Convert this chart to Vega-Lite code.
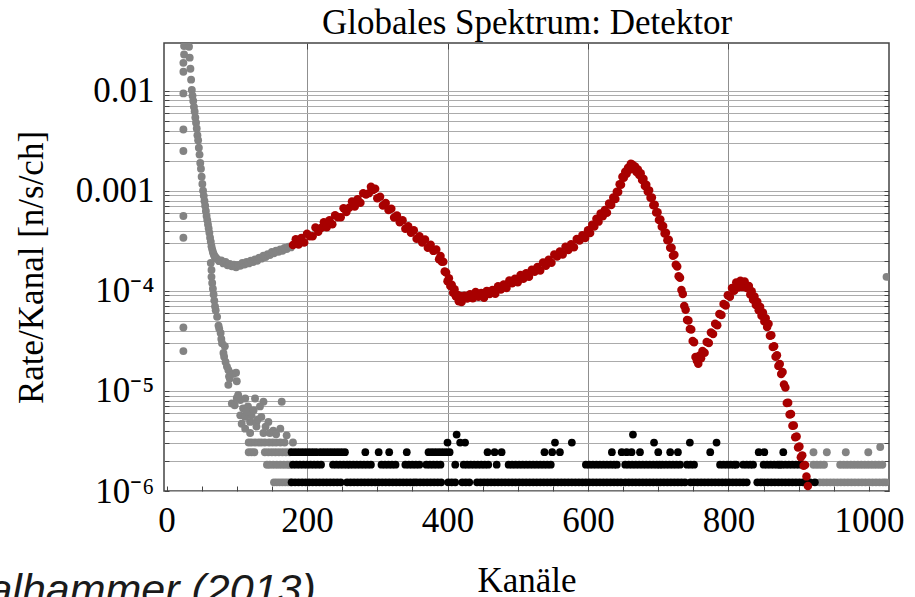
{
"$schema": "https://vega.github.io/schema/vega-lite/v6.json",
"width": 725, "height": 448,
"autosize": {"type": "none"},
"padding": {"left": 164, "top": 43, "right": 26, "bottom": 106},
"background": "white",
"config": {"view": {"stroke": "#444444", "strokeWidth": 1.5}},
"title": {"text": "Thalhammer (2013)", "orient": "bottom", "anchor": "start", "frame": "bounds", "font": "Liberation Sans", "fontStyle": "italic", "fontWeight": "normal", "fontSize": 43, "color": "#1a1a1a", "offset": -28, "dx": -76},
"datasets": {
"gray": [
{"x":25,"y":0.028},{"x":25,"y":0.023},{"x":24,"y":0.019},{"x":24,"y":0.0155},{"x":24,"y":0.0094},{"x":24,"y":0.0041},{"x":24,"y":0.0025},{"x":24,"y":0.00056},{"x":24,"y":0.00034},{"x":24,"y":4.3e-5},{"x":24,"y":2.5e-5},
{"x":28,"y":0.0708},{"x":29,"y":0.0562},{"x":30,"y":0.0447},{"x":31,"y":0.0355},{"x":32,"y":0.0275},{"x":33,"y":0.0214},{"x":34,"y":0.0166},{"x":35,"y":0.0129},{"x":36,"y":0.0102},{"x":37,"y":0.0089},{"x":38,"y":0.0079},{"x":39,"y":0.0069},{"x":40,"y":0.0062},{"x":41,"y":0.0054},{"x":42,"y":0.0048},{"x":43,"y":0.0042},{"x":44,"y":0.0036},{"x":45,"y":0.0032},{"x":46,"y":0.0027},{"x":47,"y":0.0023},{"x":48,"y":0.0019},{"x":49,"y":0.00166},{"x":50,"y":0.00138},{"x":51,"y":0.00117},{"x":52,"y":0.001},{"x":53,"y":0.00089},{"x":54,"y":0.00079},{"x":55,"y":0.00071},{"x":56,"y":0.00063},{"x":57,"y":0.00056},{"x":58,"y":0.00051},{"x":59,"y":0.00046},{"x":60,"y":0.00042},{"x":61,"y":0.00038},{"x":62,"y":0.00034},{"x":63,"y":0.00031},{"x":64,"y":0.00028},{"x":65,"y":0.00026},{"x":66,"y":0.000245},{"x":67,"y":0.000234},{"x":68,"y":0.000224},{"x":69,"y":0.000219},{"x":70,"y":0.000214},
{"x":72,"y":2.08e-4},{"x":75,"y":1.98e-4},{"x":78,"y":2.02e-4},{"x":81,"y":1.88e-4},{"x":84,"y":1.95e-4},{"x":87,"y":1.8e-4},{"x":90,"y":1.86e-4},{"x":93,"y":1.76e-4},{"x":96,"y":1.83e-4},{"x":99,"y":1.72e-4},{"x":102,"y":1.82e-4},{"x":105,"y":1.78e-4},{"x":108,"y":1.9e-4},{"x":111,"y":1.83e-4},{"x":114,"y":1.95e-4},{"x":117,"y":1.88e-4},{"x":120,"y":2.0e-4},{"x":123,"y":1.94e-4},{"x":126,"y":2.06e-4},{"x":129,"y":2.0e-4},{"x":132,"y":2.15e-4},{"x":135,"y":2.1e-4},{"x":138,"y":2.25e-4},{"x":141,"y":2.18e-4},{"x":144,"y":2.33e-4},{"x":147,"y":2.28e-4},{"x":150,"y":2.45e-4},{"x":153,"y":2.38e-4},{"x":156,"y":2.52e-4},{"x":159,"y":2.45e-4},{"x":162,"y":2.6e-4},{"x":165,"y":2.52e-4},{"x":168,"y":2.68e-4},{"x":171,"y":2.62e-4},{"x":174,"y":2.76e-4},{"x":177,"y":2.72e-4},
{"x":63,"y":1.9e-4},{"x":64,"y":1.62e-4},{"x":64,"y":1.38e-4},{"x":65,"y":1.2e-4},{"x":66,"y":1.05e-4},{"x":67,"y":9.2e-5},{"x":68,"y":8.0e-5},{"x":69,"y":7.0e-5},{"x":70,"y":6.4e-5},{"x":72,"y":5.5e-5},{"x":74,"y":4.5e-5},{"x":75,"y":4.2e-5},{"x":77,"y":3.8e-5},{"x":78,"y":3.3e-5},{"x":79,"y":3.0e-5},{"x":81,"y":2.4e-5},{"x":82,"y":2.2e-5},{"x":83,"y":2.8e-5},{"x":84,"y":1.95e-5},{"x":86,"y":1.75e-5},{"x":88,"y":1.62e-5},{"x":89,"y":1.4e-5},{"x":88,"y":1.15e-5},{"x":90,"y":1.33e-5},{"x":93,"y":1.5e-5},{"x":95,"y":1.48e-5},{"x":99,"y":1.52e-5},{"x":100,"y":1.25e-5},
{"x":102,"y":9.1e-6},{"x":93,"y":7.5e-6},{"x":97,"y":7.2e-6},{"x":105,"y":8.1e-6},{"x":112,"y":8.4e-6},{"x":126,"y":8.4e-6},{"x":138,"y":7.8e-6},{"x":164,"y":7.8e-6},{"x":109,"y":6.7e-6},{"x":116,"y":7.0e-6},{"x":133,"y":7.0e-6},{"x":105,"y":5.7e-6},{"x":112,"y":5.5e-6},{"x":121,"y":5.7e-6},{"x":135,"y":5.5e-6},{"x":107,"y":4.7e-6},{"x":119,"y":4.9e-6},{"x":128,"y":4.9e-6},{"x":145,"y":4.9e-6},{"x":112,"y":4.2e-6},{"x":119,"y":3.8e-6},{"x":128,"y":4.4e-6},{"x":138,"y":3.8e-6},{"x":147,"y":3.8e-6},{"x":162,"y":4.2e-6},{"x":171,"y":3.6e-6},{"x":100,"y":8.5e-6},{"x":114,"y":6.2e-6},{"x":124,"y":6.4e-6},{"x":130,"y":5.2e-6},{"x":141,"y":4.4e-6},{"x":152,"y":4.0e-6},{"x":156,"y":3.7e-6},
{"x":117,"y":3.05e-6},{"x":121,"y":3.05e-6},{"x":126,"y":3.05e-6},{"x":131,"y":3.05e-6},{"x":135,"y":3.05e-6},{"x":140,"y":3.05e-6},{"x":146,"y":3.05e-6},{"x":151,"y":3.05e-6},{"x":156,"y":3.05e-6},{"x":162,"y":3.05e-6},{"x":168,"y":3.05e-6},{"x":180,"y":3.05e-6},
{"x":117,"y":2.44e-6},{"x":121,"y":2.44e-6},{"x":125,"y":2.44e-6},{"x":140,"y":2.44e-6},{"x":145,"y":2.44e-6},{"x":150,"y":2.44e-6},{"x":155,"y":2.44e-6},{"x":160,"y":2.44e-6},{"x":165,"y":2.44e-6},{"x":170,"y":2.44e-6},{"x":175,"y":2.44e-6},
{"x":143,"y":1.83e-6},{"x":147,"y":1.83e-6},{"x":152,"y":1.83e-6},{"x":157,"y":1.83e-6},{"x":162,"y":1.83e-6},{"x":167,"y":1.83e-6},{"x":172,"y":1.83e-6},{"x":176,"y":1.83e-6},
{"x":153,"y":1.22e-6},{"x":157,"y":1.22e-6},{"x":161,"y":1.22e-6},{"x":165,"y":1.22e-6},{"x":169,"y":1.22e-6},{"x":173,"y":1.22e-6},{"x":177,"y":1.22e-6},
{"x":930,"y":1.22e-6},{"x":935,"y":1.22e-6},{"x":940,"y":1.22e-6},{"x":945,"y":1.22e-6},{"x":950,"y":1.22e-6},{"x":955,"y":1.22e-6},{"x":960,"y":1.22e-6},{"x":965,"y":1.22e-6},{"x":970,"y":1.22e-6},{"x":975,"y":1.22e-6},{"x":980,"y":1.22e-6},{"x":985,"y":1.22e-6},{"x":990,"y":1.22e-6},{"x":995,"y":1.22e-6},{"x":1000,"y":1.22e-6},{"x":1005,"y":1.22e-6},{"x":1010,"y":1.22e-6},{"x":1015,"y":1.22e-6},{"x":1020,"y":1.22e-6},{"x":1024,"y":1.22e-6},
{"x":921,"y":1.83e-6},{"x":926,"y":1.83e-6},{"x":931,"y":1.83e-6},{"x":936,"y":1.83e-6},{"x":959,"y":1.83e-6},{"x":964,"y":1.83e-6},{"x":969,"y":1.83e-6},{"x":974,"y":1.83e-6},{"x":979,"y":1.83e-6},{"x":984,"y":1.83e-6},{"x":989,"y":1.83e-6},{"x":994,"y":1.83e-6},{"x":999,"y":1.83e-6},{"x":1004,"y":1.83e-6},{"x":1009,"y":1.83e-6},{"x":1014,"y":1.83e-6},{"x":1019,"y":1.83e-6},
{"x":921,"y":2.44e-6},{"x":940,"y":2.44e-6},{"x":967,"y":2.44e-6},{"x":999,"y":2.44e-6},{"x":1016,"y":2.75e-6},{"x":1025,"y":1.38e-4}
],
"black": [
{"x":178,"y":1.22e-6},{"x":183,"y":1.22e-6},{"x":188,"y":1.22e-6},{"x":193,"y":1.22e-6},{"x":198,"y":1.22e-6},{"x":203,"y":1.22e-6},{"x":208,"y":1.22e-6},{"x":213,"y":1.22e-6},{"x":218,"y":1.22e-6},{"x":223,"y":1.22e-6},{"x":228,"y":1.22e-6},{"x":233,"y":1.22e-6},{"x":238,"y":1.22e-6},{"x":243,"y":1.22e-6},{"x":248,"y":1.22e-6},
{"x":257,"y":1.22e-6},{"x":262,"y":1.22e-6},{"x":267,"y":1.22e-6},{"x":272,"y":1.22e-6},{"x":277,"y":1.22e-6},{"x":282,"y":1.22e-6},{"x":287,"y":1.22e-6},{"x":292,"y":1.22e-6},{"x":297,"y":1.22e-6},{"x":302,"y":1.22e-6},{"x":307,"y":1.22e-6},{"x":312,"y":1.22e-6},{"x":317,"y":1.22e-6},{"x":322,"y":1.22e-6},{"x":327,"y":1.22e-6},{"x":332,"y":1.22e-6},{"x":337,"y":1.22e-6},{"x":342,"y":1.22e-6},{"x":347,"y":1.22e-6},{"x":352,"y":1.22e-6},
{"x":356,"y":1.22e-6},{"x":361,"y":1.22e-6},{"x":366,"y":1.22e-6},{"x":371,"y":1.22e-6},{"x":376,"y":1.22e-6},{"x":381,"y":1.22e-6},{"x":386,"y":1.22e-6},{"x":391,"y":1.22e-6},{"x":401,"y":1.22e-6},{"x":406,"y":1.22e-6},{"x":411,"y":1.22e-6},{"x":421,"y":1.22e-6},{"x":426,"y":1.22e-6},{"x":431,"y":1.22e-6},
{"x":442,"y":1.22e-6},{"x":447,"y":1.22e-6},{"x":452,"y":1.22e-6},{"x":457,"y":1.22e-6},{"x":462,"y":1.22e-6},{"x":467,"y":1.22e-6},{"x":472,"y":1.22e-6},{"x":477,"y":1.22e-6},{"x":482,"y":1.22e-6},{"x":487,"y":1.22e-6},{"x":492,"y":1.22e-6},{"x":497,"y":1.22e-6},{"x":502,"y":1.22e-6},{"x":507,"y":1.22e-6},{"x":512,"y":1.22e-6},{"x":517,"y":1.22e-6},{"x":522,"y":1.22e-6},{"x":527,"y":1.22e-6},{"x":532,"y":1.22e-6},{"x":537,"y":1.22e-6},{"x":542,"y":1.22e-6},{"x":547,"y":1.22e-6},{"x":552,"y":1.22e-6},{"x":557,"y":1.22e-6},{"x":562,"y":1.22e-6},{"x":567,"y":1.22e-6},{"x":572,"y":1.22e-6},{"x":577,"y":1.22e-6},{"x":582,"y":1.22e-6},{"x":587,"y":1.22e-6},{"x":592,"y":1.22e-6},{"x":597,"y":1.22e-6},{"x":602,"y":1.22e-6},
{"x":607,"y":1.22e-6},{"x":612,"y":1.22e-6},{"x":617,"y":1.22e-6},{"x":622,"y":1.22e-6},{"x":627,"y":1.22e-6},{"x":632,"y":1.22e-6},{"x":637,"y":1.22e-6},{"x":642,"y":1.22e-6},{"x":647,"y":1.22e-6},
{"x":653,"y":1.22e-6},{"x":658,"y":1.22e-6},{"x":663,"y":1.22e-6},{"x":668,"y":1.22e-6},{"x":673,"y":1.22e-6},{"x":678,"y":1.22e-6},{"x":683,"y":1.22e-6},{"x":688,"y":1.22e-6},{"x":693,"y":1.22e-6},{"x":698,"y":1.22e-6},{"x":703,"y":1.22e-6},{"x":708,"y":1.22e-6},{"x":713,"y":1.22e-6},{"x":718,"y":1.22e-6},{"x":723,"y":1.22e-6},{"x":728,"y":1.22e-6},{"x":733,"y":1.22e-6},{"x":738,"y":1.22e-6},
{"x":746,"y":1.22e-6},{"x":751,"y":1.22e-6},{"x":756,"y":1.22e-6},{"x":761,"y":1.22e-6},{"x":766,"y":1.22e-6},{"x":771,"y":1.22e-6},{"x":776,"y":1.22e-6},{"x":781,"y":1.22e-6},{"x":786,"y":1.22e-6},{"x":791,"y":1.22e-6},{"x":796,"y":1.22e-6},{"x":801,"y":1.22e-6},{"x":806,"y":1.22e-6},{"x":811,"y":1.22e-6},{"x":816,"y":1.22e-6},{"x":821,"y":1.22e-6},{"x":826,"y":1.22e-6},
{"x":841,"y":1.22e-6},{"x":846,"y":1.22e-6},{"x":851,"y":1.22e-6},{"x":856,"y":1.22e-6},{"x":861,"y":1.22e-6},{"x":866,"y":1.22e-6},{"x":871,"y":1.22e-6},{"x":876,"y":1.22e-6},{"x":881,"y":1.22e-6},{"x":886,"y":1.22e-6},{"x":891,"y":1.22e-6},{"x":896,"y":1.22e-6},{"x":901,"y":1.22e-6},{"x":906,"y":1.22e-6},{"x":911,"y":1.22e-6},{"x":916,"y":1.22e-6},{"x":923,"y":1.22e-6},
{"x":180,"y":1.83e-6},{"x":185,"y":1.83e-6},{"x":190,"y":1.83e-6},{"x":195,"y":1.83e-6},{"x":200,"y":1.83e-6},{"x":205,"y":1.83e-6},{"x":210,"y":1.83e-6},{"x":215,"y":1.83e-6},{"x":220,"y":1.83e-6},
{"x":237,"y":1.83e-6},{"x":242,"y":1.83e-6},{"x":247,"y":1.83e-6},{"x":252,"y":1.83e-6},{"x":257,"y":1.83e-6},{"x":261,"y":1.83e-6},{"x":266,"y":1.83e-6},{"x":271,"y":1.83e-6},{"x":276,"y":1.83e-6},{"x":281,"y":1.83e-6},{"x":286,"y":1.83e-6},{"x":291,"y":1.83e-6},
{"x":306,"y":1.83e-6},{"x":311,"y":1.83e-6},{"x":316,"y":1.83e-6},{"x":321,"y":1.83e-6},{"x":326,"y":1.83e-6},{"x":340,"y":1.83e-6},{"x":345,"y":1.83e-6},{"x":350,"y":1.83e-6},{"x":355,"y":1.83e-6},{"x":360,"y":1.83e-6},{"x":370,"y":1.83e-6},{"x":375,"y":1.83e-6},{"x":380,"y":1.83e-6},{"x":385,"y":1.83e-6},{"x":390,"y":1.83e-6},{"x":411,"y":1.83e-6},
{"x":423,"y":1.83e-6},{"x":428,"y":1.83e-6},{"x":433,"y":1.83e-6},{"x":438,"y":1.83e-6},{"x":443,"y":1.83e-6},{"x":448,"y":1.83e-6},{"x":453,"y":1.83e-6},{"x":458,"y":1.83e-6},{"x":470,"y":1.83e-6},
{"x":487,"y":1.83e-6},{"x":492,"y":1.83e-6},{"x":497,"y":1.83e-6},{"x":502,"y":1.83e-6},{"x":507,"y":1.83e-6},{"x":512,"y":1.83e-6},{"x":517,"y":1.83e-6},{"x":522,"y":1.83e-6},{"x":527,"y":1.83e-6},{"x":532,"y":1.83e-6},{"x":537,"y":1.83e-6},{"x":542,"y":1.83e-6},{"x":547,"y":1.83e-6},
{"x":597,"y":1.83e-6},{"x":602,"y":1.83e-6},{"x":607,"y":1.83e-6},{"x":612,"y":1.83e-6},{"x":617,"y":1.83e-6},{"x":622,"y":1.83e-6},{"x":627,"y":1.83e-6},{"x":632,"y":1.83e-6},{"x":637,"y":1.83e-6},{"x":641,"y":1.83e-6},
{"x":653,"y":1.83e-6},{"x":658,"y":1.83e-6},{"x":663,"y":1.83e-6},{"x":668,"y":1.83e-6},{"x":673,"y":1.83e-6},{"x":678,"y":1.83e-6},{"x":683,"y":1.83e-6},{"x":688,"y":1.83e-6},{"x":693,"y":1.83e-6},{"x":698,"y":1.83e-6},{"x":702,"y":1.83e-6},{"x":706,"y":1.83e-6},{"x":711,"y":1.83e-6},{"x":716,"y":1.83e-6},{"x":721,"y":1.83e-6},{"x":726,"y":1.83e-6},{"x":731,"y":1.83e-6},
{"x":741,"y":1.83e-6},{"x":746,"y":1.83e-6},{"x":751,"y":1.83e-6},{"x":788,"y":1.83e-6},{"x":793,"y":1.83e-6},{"x":798,"y":1.83e-6},{"x":803,"y":1.83e-6},{"x":808,"y":1.83e-6},{"x":811,"y":1.83e-6},{"x":821,"y":1.83e-6},{"x":826,"y":1.83e-6},{"x":831,"y":1.83e-6},{"x":835,"y":1.83e-6},
{"x":850,"y":1.83e-6},{"x":855,"y":1.83e-6},{"x":860,"y":1.83e-6},{"x":865,"y":1.83e-6},{"x":870,"y":1.83e-6},{"x":873,"y":1.83e-6},{"x":876,"y":1.83e-6},{"x":881,"y":1.83e-6},{"x":886,"y":1.83e-6},{"x":891,"y":1.83e-6},{"x":896,"y":1.83e-6},{"x":901,"y":1.83e-6},{"x":906,"y":1.83e-6},
{"x":178,"y":2.44e-6},{"x":183,"y":2.44e-6},{"x":188,"y":2.44e-6},{"x":193,"y":2.44e-6},{"x":198,"y":2.44e-6},{"x":203,"y":2.44e-6},{"x":208,"y":2.44e-6},{"x":213,"y":2.44e-6},{"x":219,"y":2.44e-6},{"x":224,"y":2.44e-6},{"x":229,"y":2.44e-6},{"x":234,"y":2.44e-6},{"x":239,"y":2.44e-6},{"x":244,"y":2.44e-6},{"x":249,"y":2.44e-6},{"x":254,"y":2.44e-6},
{"x":283,"y":2.44e-6},{"x":302,"y":2.44e-6},{"x":317,"y":2.44e-6},{"x":342,"y":2.44e-6},{"x":373,"y":2.44e-6},{"x":378,"y":2.44e-6},{"x":383,"y":2.44e-6},{"x":388,"y":2.44e-6},{"x":393,"y":2.44e-6},{"x":398,"y":2.44e-6},{"x":403,"y":2.44e-6},
{"x":457,"y":2.44e-6},{"x":467,"y":2.44e-6},{"x":477,"y":2.44e-6},{"x":538,"y":2.44e-6},{"x":549,"y":2.44e-6},{"x":560,"y":2.44e-6},{"x":634,"y":2.44e-6},{"x":648,"y":2.44e-6},{"x":655,"y":2.44e-6},{"x":662,"y":2.44e-6},{"x":674,"y":2.44e-6},{"x":700,"y":2.44e-6},{"x":717,"y":2.44e-6},{"x":728,"y":2.44e-6},{"x":774,"y":2.44e-6},{"x":843,"y":2.44e-6},{"x":851,"y":2.44e-6},{"x":878,"y":2.44e-6},
{"x":400,"y":3.05e-6},{"x":418,"y":3.05e-6},{"x":425,"y":3.05e-6},{"x":553,"y":3.05e-6},{"x":577,"y":3.05e-6},{"x":694,"y":3.05e-6},{"x":745,"y":3.05e-6},{"x":783,"y":3.05e-6},
{"x":413,"y":3.66e-6},{"x":664,"y":3.66e-6}
],
"red": [
{"x":180,"y":2.88e-4},{"x":184,"y":3.28e-4},{"x":188,"y":2.9e-4},{"x":192,"y":3.37e-4},{"x":196,"y":3.05e-4},{"x":200,"y":3.72e-4},{"x":204,"y":3.52e-4},{"x":208,"y":3.51e-4},{"x":212,"y":4.29e-4},{"x":216,"y":3.89e-4},{"x":220,"y":4.24e-4},{"x":224,"y":4.84e-4},{"x":228,"y":4.32e-4},{"x":232,"y":5.07e-4},{"x":236,"y":4.62e-4},{"x":240,"y":5.69e-4},{"x":244,"y":5.43e-4},{"x":248,"y":5.43e-4},{"x":252,"y":6.71e-4},{"x":256,"y":6.15e-4},{"x":260,"y":6.76e-4},{"x":264,"y":7.8e-4},{"x":268,"y":6.98e-4},{"x":272,"y":8.24e-4},{"x":276,"y":7.6e-4},{"x":280,"y":9.48e-4},{"x":284,"y":9.16e-4},{"x":288,"y":9.48e-4},{"x":291,"y":1.1e-3},{"x":294,"y":1.02e-3},{"x":297,"y":1.05e-3},
{"x":300,"y":8.43e-4},{"x":304,"y":8.71e-4},{"x":308,"y":7.14e-4},{"x":312,"y":7.57e-4},{"x":316,"y":6.44e-4},{"x":320,"y":6.61e-4},{"x":324,"y":5.4e-4},{"x":328,"y":5.68e-4},{"x":332,"y":4.84e-4},{"x":336,"y":5.09e-4},{"x":340,"y":4.18e-4},{"x":344,"y":4.43e-4},{"x":348,"y":3.81e-4},{"x":352,"y":4.04e-4},{"x":356,"y":3.32e-4},{"x":360,"y":3.52e-4},{"x":364,"y":3.05e-4},{"x":368,"y":3.26e-4},{"x":372,"y":2.7e-4},{"x":376,"y":2.89e-4},{"x":380,"y":2.51e-4},{"x":384,"y":2.59e-4},{"x":388,"y":2.07e-4},
{"x":390,"y":2.23e-4},{"x":392,"y":1.95e-4},{"x":394,"y":1.96e-4},{"x":396,"y":1.56e-4},{"x":398,"y":1.53e-4},{"x":400,"y":1.25e-4},{"x":402,"y":1.34e-4},{"x":404,"y":1.12e-4},{"x":406,"y":1.15e-4},{"x":408,"y":9.55e-5},{"x":410,"y":1.04e-4},{"x":412,"y":8.79e-5},{"x":414,"y":9.14e-5},{"x":416,"y":7.87e-5},{"x":418,"y":8.87e-5},{"x":420,"y":7.76e-5},
{"x":424,"y":8.95e-5},{"x":428,"y":8.39e-5},{"x":432,"y":9.23e-5},{"x":436,"y":8.45e-5},{"x":440,"y":9.77e-5},{"x":444,"y":8.71e-5},{"x":448,"y":9.55e-5},{"x":452,"y":8.55e-5},{"x":456,"y":1.0e-4},{"x":460,"y":9.31e-5},{"x":464,"y":1.02e-4},{"x":468,"y":9.35e-5},{"x":472,"y":1.11e-4},{"x":476,"y":1.03e-4},{"x":480,"y":1.16e-4},{"x":484,"y":1.07e-4},{"x":488,"y":1.27e-4},{"x":492,"y":1.19e-4},{"x":496,"y":1.32e-4},{"x":500,"y":1.22e-4},{"x":504,"y":1.44e-4},{"x":508,"y":1.32e-4},{"x":512,"y":1.5e-4},{"x":516,"y":1.38e-4},{"x":520,"y":1.63e-4},{"x":524,"y":1.55e-4},{"x":528,"y":1.73e-4},{"x":532,"y":1.6e-4},{"x":536,"y":1.92e-4},{"x":540,"y":1.78e-4},{"x":544,"y":2.05e-4},{"x":548,"y":1.91e-4},{"x":552,"y":2.31e-4},{"x":556,"y":2.21e-4},{"x":560,"y":2.48e-4},{"x":564,"y":2.31e-4},{"x":568,"y":2.76e-4},{"x":572,"y":2.56e-4},{"x":576,"y":2.93e-4},{"x":580,"y":2.73e-4},{"x":584,"y":3.3e-4},{"x":588,"y":3.18e-4},{"x":592,"y":3.59e-4},{"x":596,"y":3.37e-4},
{"x":600,"y":4.04e-4},{"x":603,"y":3.79e-4},{"x":606,"y":4.59e-4},{"x":609,"y":4.41e-4},{"x":612,"y":5.25e-4},{"x":615,"y":4.92e-4},{"x":618,"y":5.94e-4},{"x":621,"y":5.57e-4},{"x":624,"y":6.43e-4},{"x":627,"y":6.03e-4},{"x":630,"y":7.48e-4},{"x":633,"y":7.23e-4},{"x":636,"y":8.57e-4},{"x":639,"y":8.26e-4},
{"x":641,"y":9.77e-4},{"x":643,"y":9.72e-4},{"x":645,"y":1.16e-3},{"x":647,"y":1.15e-3},{"x":649,"y":1.38e-3},{"x":651,"y":1.35e-3},{"x":653,"y":1.55e-3},{"x":655,"y":1.48e-3},{"x":657,"y":1.7e-3},{"x":659,"y":1.62e-3},{"x":661,"y":1.86e-3},{"x":663,"y":1.83e-3},{"x":665,"y":1.65e-3},{"x":667,"y":1.75e-3},{"x":669,"y":1.54e-3},{"x":671,"y":1.63e-3},{"x":673,"y":1.44e-3},{"x":675,"y":1.5e-3},{"x":677,"y":1.28e-3},{"x":679,"y":1.32e-3},{"x":681,"y":1.12e-3},{"x":683,"y":1.15e-3},{"x":685,"y":9.84e-4},{"x":687,"y":1.01e-3},{"x":689,"y":8.53e-4},{"x":691,"y":8.59e-4},{"x":693,"y":7.19e-4},{"x":695,"y":7.24e-4},{"x":697,"y":6.07e-4},{"x":699,"y":6.11e-4},{"x":701,"y":5.12e-4},{"x":703,"y":5.16e-4},{"x":705,"y":4.37e-4},{"x":707,"y":4.44e-4},{"x":709,"y":3.74e-4},{"x":711,"y":3.8e-4},{"x":713,"y":3.21e-4},{"x":715,"y":3.24e-4},{"x":717,"y":2.69e-4},{"x":719,"y":2.7e-4},{"x":721,"y":2.24e-4},{"x":723,"y":2.29e-4},{"x":725,"y":1.82e-4},{"x":727,"y":1.75e-4},{"x":729,"y":1.4e-4},{"x":731,"y":1.35e-4},{"x":733,"y":1.02e-4},{"x":735,"y":9.33e-5},{"x":737,"y":7.08e-5},{"x":739,"y":6.46e-5},{"x":741,"y":5.11e-5},{"x":743,"y":5.06e-5},{"x":745,"y":4.17e-5},{"x":747,"y":4.11e-5},{"x":749,"y":3.15e-5},{"x":751,"y":3.06e-5},{"x":753,"y":2.18e-5},{"x":755,"y":2.0e-5},{"x":757,"y":1.87e-5},{"x":759,"y":2.26e-5},{"x":761,"y":2.12e-5},
{"x":763,"y":2.51e-5},{"x":766,"y":2.41e-5},{"x":769,"y":3.09e-5},{"x":772,"y":3.01e-5},{"x":775,"y":3.84e-5},{"x":778,"y":3.7e-5},{"x":781,"y":4.69e-5},{"x":784,"y":4.54e-5},{"x":787,"y":5.86e-5},{"x":790,"y":5.74e-5},{"x":793,"y":7.41e-5},{"x":796,"y":7.13e-5},{"x":799,"y":9.06e-5},{"x":802,"y":8.71e-5},{"x":805,"y":1.07e-4},{"x":808,"y":1.0e-4},{"x":811,"y":1.21e-4},{"x":814,"y":1.08e-4},{"x":817,"y":1.26e-4},{"x":820,"y":1.09e-4},{"x":823,"y":1.24e-4},{"x":826,"y":1.07e-4},{"x":829,"y":1.12e-4},
{"x":831,"y":9.18e-5},{"x":833,"y":9.93e-5},{"x":835,"y":8.13e-5},{"x":837,"y":8.79e-5},{"x":839,"y":7.21e-5},{"x":841,"y":7.8e-5},{"x":843,"y":6.4e-5},{"x":845,"y":6.92e-5},{"x":847,"y":5.65e-5},{"x":849,"y":6.07e-5},{"x":851,"y":4.95e-5},{"x":853,"y":5.33e-5},{"x":855,"y":4.35e-5},{"x":857,"y":4.68e-5},{"x":859,"y":3.57e-5},{"x":861,"y":3.6e-5},{"x":863,"y":2.75e-5},{"x":865,"y":2.8e-5},{"x":867,"y":2.19e-5},{"x":869,"y":2.27e-5},{"x":871,"y":1.78e-5},{"x":873,"y":1.86e-5},{"x":875,"y":1.48e-5},{"x":877,"y":1.55e-5},{"x":879,"y":1.16e-5},{"x":881,"y":1.08e-5},{"x":883,"y":7.59e-6},{"x":885,"y":7.64e-6},{"x":887,"y":5.83e-6},{"x":889,"y":5.87e-6},{"x":891,"y":4.49e-6},{"x":893,"y":4.52e-6},{"x":895,"y":3.45e-6},{"x":897,"y":3.51e-6},{"x":899,"y":2.72e-6},{"x":901,"y":2.79e-6},{"x":903,"y":2.18e-6},{"x":905,"y":2.27e-6},{"x":907,"y":1.79e-6},{"x":909,"y":1.82e-6},{"x":911,"y":1.4e-6},{"x":913,"y":1.12e-6},{"x":915,"y":8.9e-7}
]
},
"layer": [
{
"data": {"name": "gray"},
"mark": {"type": "circle", "size": 62, "opacity": 1, "color": "#838383", "clip": true},
"encoding": {
"x": {"field": "x", "type": "quantitative", "scale": {"domain": [-3.6, 1028.5], "nice": false, "zero": false},
"axis": {"orient": "bottom", "values": [0,50,100,150,200,250,300,350,400,450,500,550,600,650,700,750,800,850,900,950,1000], "format": "d", "labelExpr": "datum.value % 200 == 0 ? datum.label : ''", "labelFont": "Liberation Serif", "labelFontSize": 35, "labelColor": "#000000", "labelPadding": 17, "labelOverlap": false, "labelFlush": false, "tickSize": -5, "tickColor": "#444444", "domain": false, "grid": false, "title": "Kanäle", "titleFont": "Liberation Serif", "titleFontSize": 35, "titleFontWeight": "normal", "titleColor": "#000000", "titlePadding": 25}},
"y": {"field": "y", "type": "quantitative", "scale": {"type": "log", "domain": [1e-6, 0.03], "nice": false},
"axis": {"orient": "left", "values": [1e-6,2e-6,3e-6,4e-6,5e-6,6e-6,7e-6,8e-6,9e-6,1e-5,2e-5,3e-5,4e-5,5e-5,6e-5,7e-5,8e-5,9e-5,1e-4,2e-4,3e-4,4e-4,5e-4,6e-4,7e-4,8e-4,9e-4,0.001,0.002,0.003,0.004,0.005,0.006,0.007,0.008,0.009,0.01], "labelExpr": "abs(log(datum.value)/LN10 - round(log(datum.value)/LN10)) > 0.01 ? '' : datum.value > 0.005 ? '0.01' : datum.value > 0.0005 ? '0.001' : datum.value > 0.00005 ? '10⁻⁴' : datum.value > 0.000005 ? '10⁻⁵' : '10⁻⁶'", "labelFont": "Liberation Serif", "labelFontSize": 35, "labelColor": "#000000", "labelPadding": 15, "labelOverlap": false, "labelFlush": false, "tickSize": -5, "tickColor": "#444444", "domain": false, "grid": true, "gridColor": "#ababab", "gridWidth": 1, "title": "Rate/Kanal [n/s/ch]", "titleFont": "Liberation Serif", "titleFontSize": 35, "titleFontWeight": "normal", "titleColor": "#000000", "titlePadding": 26}}
}
},
{
"data": {"name": "black"},
"mark": {"type": "circle", "size": 60, "opacity": 1, "color": "#000000", "clip": true},
"encoding": {
"x": {"field": "x", "type": "quantitative", "scale": {"domain": [-3.6, 1028.5], "nice": false, "zero": false},
"axis": {"orient": "top", "values": [200,400,600,800], "labels": false, "tickSize": -6, "tickColor": "#444444", "domain": false, "grid": true, "gridColor": "#8f8f8f", "gridWidth": 1, "title": "Globales Spektrum: Detektor", "titleFont": "Liberation Serif", "titleFontSize": 35, "titleFontWeight": "normal", "titleColor": "#000000", "titlePadding": 2}},
"y": {"field": "y", "type": "quantitative", "scale": {"type": "log", "domain": [1e-6, 0.03], "nice": false},
"axis": {"orient": "right", "values": [1e-6,2e-6,3e-6,4e-6,5e-6,6e-6,7e-6,8e-6,9e-6,1e-5,2e-5,3e-5,4e-5,5e-5,6e-5,7e-5,8e-5,9e-5,1e-4,2e-4,3e-4,4e-4,5e-4,6e-4,7e-4,8e-4,9e-4,0.001,0.002,0.003,0.004,0.005,0.006,0.007,0.008,0.009,0.01], "labels": false, "tickSize": -5, "tickColor": "#444444", "domain": false, "grid": false, "title": null}}
}
},
{
"data": {"name": "red"},
"mark": {"type": "circle", "size": 72, "opacity": 1, "color": "#a80000", "clip": true},
"encoding": {
"x": {"field": "x", "type": "quantitative", "scale": {"domain": [-3.6, 1028.5], "nice": false, "zero": false}, "axis": null},
"y": {"field": "y", "type": "quantitative", "scale": {"type": "log", "domain": [1e-6, 0.03], "nice": false}, "axis": null}
}
}
],
"resolve": {"axis": {"x": "independent", "y": "independent"}}
}
